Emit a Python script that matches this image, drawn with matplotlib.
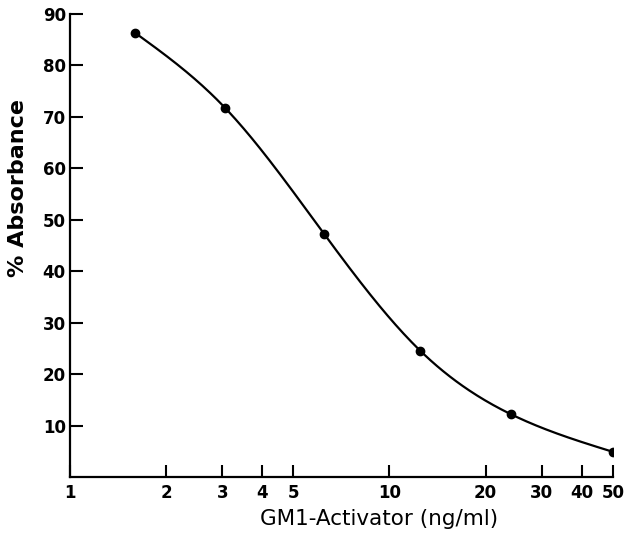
import numpy as np
import matplotlib.pyplot as plt

# GM1-activator standard curve
activator_ng_ml = [1.6, 3.05, 6.25, 12.5, 24.0, 50.0]
absorbance_pct = [86.3, 71.8, 47.2, 24.5, 12.2, 4.9]

x_ticks = [1, 2, 3, 4, 5, 10, 20, 30, 40, 50]
x_tick_labels = ['1', '2', '3', '4', '5', '10', '20', '30', '40', '50']
y_ticks = [10, 20, 30, 40, 50, 60, 70, 80, 90]


def natural_spline(x, y, x_new):
    """Natural cubic spline through (x, y), evaluated at x_new."""
    x = np.asarray(x, float)
    y = np.asarray(y, float)
    n = len(x)
    h = np.diff(x)
    A = np.zeros((n, n))
    b = np.zeros(n)
    A[0, 0] = A[-1, -1] = 1.0
    for i in range(1, n - 1):
        A[i, i - 1] = h[i - 1]
        A[i, i] = 2 * (h[i - 1] + h[i])
        A[i, i + 1] = h[i]
        b[i] = 3 * ((y[i + 1] - y[i]) / h[i] - (y[i] - y[i - 1]) / h[i - 1])
    c = np.linalg.solve(A, b)
    idx = np.clip(np.searchsorted(x, x_new) - 1, 0, n - 2)
    dx = x_new - x[idx]
    bb = (y[idx + 1] - y[idx]) / h[idx] - h[idx] * (2 * c[idx] + c[idx + 1]) / 3
    d = (c[idx + 1] - c[idx]) / (3 * h[idx])
    return y[idx] + bb * dx + c[idx] * dx ** 2 + d * dx ** 3


def main():
    plt.rcParams['font.family'] = ['DejaVu Sans']

    fig = plt.figure(figsize=(6.33, 5.33), dpi=100)
    ax = fig.add_axes([0.1106, 0.105, 0.8575, 0.869])

    # smooth curve drawn in log-x space
    log_x = np.log10(activator_ng_ml)
    fine = np.linspace(log_x[0], log_x[-1], 300)
    ax.plot(10 ** fine, natural_spline(log_x, absorbance_pct, fine),
            color='black', linewidth=1.6, solid_capstyle='round')
    ax.plot(activator_ng_ml, absorbance_pct, 'o', color='black', markersize=6)

    ax.set_xscale('log')
    ax.set_xlim(1, 50)
    ax.set_ylim(0, 90)
    ax.set_xticks(x_ticks)
    ax.set_xticklabels(x_tick_labels)
    ax.minorticks_off()
    ax.set_yticks(y_ticks)

    for side in ('top', 'right'):
        ax.spines[side].set_visible(False)
    for side in ('left', 'bottom'):
        ax.spines[side].set_linewidth(1.6)

    ax.tick_params(axis='both', direction='in', length=9, width=1.5,
                   labelsize=12, pad=3)
    ax.tick_params(axis='x', pad=5)
    for lbl in ax.get_xticklabels() + ax.get_yticklabels():
        lbl.set_fontweight('bold')

    ax.set_xlabel('GM1-Activator (ng/ml)', fontsize=15.5)
    ax.xaxis.set_label_coords(0.57, -0.07)
    ax.set_ylabel('% Absorbance', fontsize=16, fontweight='bold')
    ax.yaxis.set_label_coords(-0.078, 0.625)

    fig.savefig('out.png', dpi=100)
    plt.close(fig)


if __name__ == "__main__":
    main()
